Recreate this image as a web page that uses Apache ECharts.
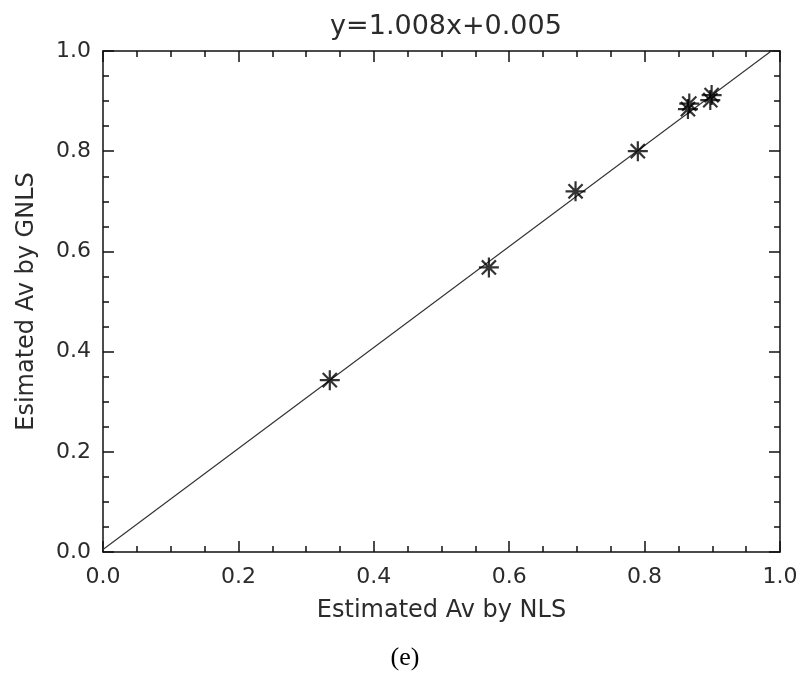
<!DOCTYPE html>
<html>
<head>
<meta charset="utf-8">
<script src="https://cdn.jsdelivr.net/npm/echarts@6/dist/echarts.min.js"></script>
<style>
  html, body { margin: 0; padding: 0; background: #fff; }
  #chart { width: 804px; height: 679px; }
</style>
</head>
<body>
<div id="chart"></div>
<script>
// Av estimates: NLS (x) against GNLS (y)
const nlsAv  = [0.335, 0.570, 0.698, 0.790, 0.864, 0.866, 0.897, 0.899];
const gnlsAv = [0.343, 0.568, 0.720, 0.800, 0.884, 0.895, 0.902, 0.912];

// Fitted regression line
const fitSlope = 1.008;
const fitIntercept = 0.005;
const fitX = [0, 1];

const points = nlsAv.map((x, i) => [x, gnlsAv[i]]);
const fitLine = fitX.map(x => [x, fitSlope * x + fitIntercept]);

const FONT = 'DejaVu Sans';
const INK = '#2b2b2b';
// eight-ray asterisk marker
const star = 'path://M0,-10L0,10M-10,0L10,0M-7.07,-7.07L7.07,7.07M-7.07,7.07L7.07,-7.07';

const axisBase = {
  type: 'value', min: 0, max: 1, interval: 0.2,
  axisLine: { show: true, onZero: false, lineStyle: { color: '#111', width: 1.5 } },
  axisTick: { show: true, inside: true, length: 11, lineStyle: { color: '#111', width: 1.5 } },
  minorTick: { show: true, splitNumber: 4, length: 6, lineStyle: { color: '#111', width: 1.5 } },
  splitLine: { show: false },
  minorSplitLine: { show: false }
};

const labelStyle = {
  fontFamily: FONT, fontSize: 22, color: INK,
  formatter: v => v.toFixed(1)
};

const chart = echarts.init(document.getElementById('chart'), null, { renderer: 'canvas' });
chart.setOption({
  backgroundColor: '#fff',
  animation: false,
  title: [
    {
      text: 'y=' + fitSlope.toFixed(3) + 'x+' + fitIntercept.toFixed(3),
      left: 441, top: 8, textAlign: 'center',
      textStyle: { fontFamily: FONT, fontSize: 27, fontWeight: 'normal', color: INK }
    },
    {
      text: '(e)',
      left: 400, top: 640, textAlign: 'center',
      textStyle: { fontFamily: 'Liberation Serif', fontSize: 26, fontWeight: 'normal', color: '#000' }
    }
  ],
  grid: { left: 103, right: 24, top: 51, bottom: 127, containLabel: false },
  xAxis: [
    Object.assign({}, axisBase, {
      position: 'bottom',
      name: 'Estimated Av by NLS', nameLocation: 'middle', nameGap: 47,
      nameTextStyle: { fontFamily: FONT, fontSize: 24, color: INK },
      axisLabel: Object.assign({ margin: 14 }, labelStyle)
    }),
    Object.assign({}, axisBase, { position: 'top', axisLabel: { show: false } })
  ],
  yAxis: [
    Object.assign({}, axisBase, {
      position: 'left',
      name: 'Esimated Av by GNLS', nameLocation: 'middle', nameGap: 64,
      nameTextStyle: { fontFamily: FONT, fontSize: 24, color: INK },
      axisLabel: Object.assign({ margin: 12 }, labelStyle)
    }),
    Object.assign({}, axisBase, { position: 'right', axisLabel: { show: false } })
  ],
  series: [
    {
      type: 'line',
      data: fitLine,
      showSymbol: false,
      clip: true,
      lineStyle: { color: '#333', width: 1.2 },
      z: 2
    },
    {
      type: 'scatter',
      data: points,
      symbol: star,
      symbolSize: 20,
      itemStyle: { color: 'none', borderColor: '#000', borderWidth: 2.2 },
      z: 3
    }
  ]
});
</script>
</body>
</html>
